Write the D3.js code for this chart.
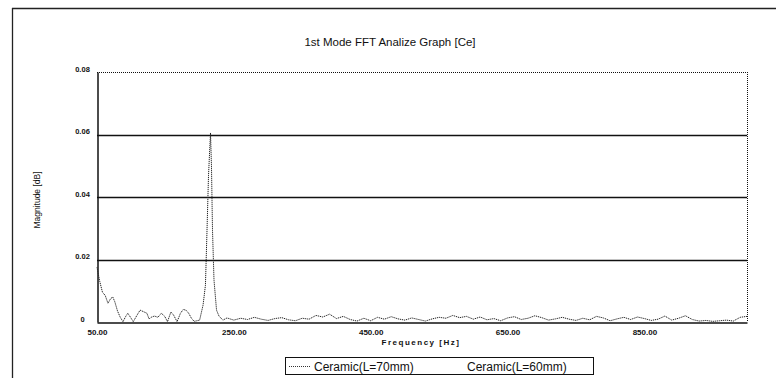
<!DOCTYPE html>
<html><head><meta charset="utf-8">
<script src="https://cdn.jsdelivr.net/npm/d3@7"></script>
<style>body{margin:0;background:#fff}svg{display:block}</style>
</head><body>
<svg id="c" width="776" height="378"></svg>
<script>
const title = "1st Mode FFT Analize Graph [Ce]";
const xLabel = "Frequency [Hz]";
const yLabel = "Magnitude [dB]";
const seriesNames = ["Ceramic(L=70mm)", "Ceramic(L=60mm)"];
const xTicks = [50, 250, 450, 650, 850];
const xTickLabels = ["50.00", "250.00", "450.00", "650.00", "850.00"];
const yTicks = [0, 0.02, 0.04, 0.06, 0.08];
const yTickLabels = ["0", "0.02", "0.04", "0.06", "0.08"];
const freq = [50,54,58,62,66,70,73,76,80,84,88,92,95,99,103,108,113,118,123,126,130,134,139,144,149,153,158,162,167,172,176,180,184,188,192,196,200,205,208.5,210.8,213,215.9,217.3,218.8,221,224.7,228.3,234,
240,250,260,270,280,290,300,310,320,330,340,350,360,370,380,390,400,410,420,430,440,450,460,470,480,490,500,510,520,530,540,550,560,570,580,590,600,610,620,630,640,650,660,670,680,690,700,710,720,730,740,750,760,770,780,790,800,810,820,830,840,850,860,870,880,890,900,910,920,930,940,950,960,970,980,990,1000];
const mag70 = [0.0175,0.013,0.0095,0.0085,0.006,0.0075,0.008,0.0065,0.0035,0.0015,0.0001,0.0018,0.0028,0.0015,0.0001,0.002,0.0038,0.0033,0.0028,0.001,0.0016,0.0019,0.0015,0.0028,0.0018,0.0001,0.0032,0.0022,0.0001,0.0028,0.004,0.0038,0.0028,0.0012,0.0002,0.0004,0.0006,0.0054,0.0118,0.0294,0.047,0.0605,0.05,0.0294,0.0134,0.0038,0.0019,0.0006,
0.0013,0.0006,0.0012,0.0008,0.0015,0.0009,0.0005,0.0011,0.0014,0.0007,0.0004,0.0012,0.0009,0.0021,0.0016,0.0025,0.0011,0.0018,0.0008,0.0003,0.0012,0.0004,0.0015,0.0009,0.0017,0.001,0.0006,0.0013,0.0008,0.0003,0.001,0.0015,0.0012,0.0021,0.0014,0.0018,0.0009,0.0016,0.0007,0.0011,0.0004,0.0013,0.0017,0.0008,0.0012,0.002,0.0014,0.0006,0.001,0.0015,0.0009,0.0005,0.0012,0.0007,0.0018,0.0013,0.0004,0.001,0.0015,0.0008,0.0016,0.0011,0.0005,0.0009,0.0019,0.0006,0.0012,0.002,0.0008,0.0003,0.0005,0.0002,0.0004,0.0006,0.0003,0.0015,0.0018];

const svg = d3.select("#c");
const L = 97, R = 747, T = 72, B = 322;
const x = d3.scaleLinear().domain([50, 1000]).range([L, R]);
const y = d3.scaleLinear().domain([0, 0.08]).range([B, T]);
const font = "'Liberation Sans', Arial, sans-serif";

// outer frame
svg.append("line").attr("x1",12).attr("x2",776).attr("y1",8.5).attr("y2",8.5).attr("stroke","#222").attr("stroke-width",1.3);
svg.append("line").attr("x1",12.5).attr("x2",12.5).attr("y1",8).attr("y2",378).attr("stroke","#222").attr("stroke-width",1.3);

// title
svg.append("text").attr("x",390).attr("y",46).attr("text-anchor","middle")
  .attr("font-family",font).attr("font-size",11.5).attr("fill","#111").text(title);

// gridlines
yTicks.forEach(v=>{
  if(v===0) return;
  const g = svg.append("line").attr("x1",L).attr("x2",R).attr("y1",Math.round(y(v))+0.5).attr("y2",Math.round(y(v))+0.5)
    .attr("stroke","#111");
  if(v===0.08) g.attr("stroke-dasharray","1,1").attr("stroke-width",1); else g.attr("stroke-width",1.3);
});
// right border dotted
svg.append("line").attr("x1",R+0.5).attr("x2",R+0.5).attr("y1",T).attr("y2",B).attr("stroke","#111").attr("stroke-dasharray","1,1");

// axes
const xAxis = d3.axisBottom(x).tickValues(xTicks).tickSize(0).tickFormat((d,i)=>xTickLabels[i]);
const gx = svg.append("g").attr("transform",`translate(0,${B+0.5})`).call(xAxis);
gx.select(".domain").attr("stroke","#111").attr("stroke-width",1.5);
gx.selectAll("text").attr("font-family",font).attr("font-size",8).attr("font-weight","bold").attr("fill","#111").attr("dy","0.35em").attr("y",10);

const yAxis = d3.axisLeft(y).tickValues(yTicks).tickSize(0).tickFormat((d,i)=>yTickLabels[i]);
const gy = svg.append("g").attr("transform",`translate(${L+0.5},0)`).call(yAxis);
gy.select(".domain").attr("stroke","#111").attr("stroke-width",1.5);
gy.selectAll("text").attr("font-family",font).attr("font-size",7.5).attr("font-weight","bold").attr("fill","#111")
  .attr("text-anchor","middle").attr("x",-15).attr("dy","-0.1em");

// axis labels
svg.append("text").attr("x",421).attr("y",345).attr("text-anchor","middle")
  .attr("font-family",font).attr("font-size",8).attr("font-weight","bold").attr("letter-spacing",1.5).attr("fill","#111").text(xLabel);
svg.append("text").attr("transform","translate(40,200) rotate(-90)").attr("text-anchor","middle")
  .attr("font-family",font).attr("font-size",8.5).attr("fill","#111").text(yLabel);

// series
const line = d3.line().x((d,i)=>x(freq[i])).y(d=>y(d));
svg.append("path").datum(mag70).attr("d",line).attr("fill","none")
  .attr("stroke","#222").attr("stroke-width",1).attr("stroke-dasharray","1.2,0.8");

// legend
svg.append("rect").attr("x",285.5).attr("y",357.5).attr("width",308).attr("height",17)
  .attr("fill","#fff").attr("stroke","#111").attr("stroke-width",1);
svg.append("line").attr("x1",289).attr("x2",310).attr("y1",366.5).attr("y2",366.5)
  .attr("stroke","#333").attr("stroke-dasharray","1,1");
svg.append("text").attr("x",314).attr("y",371).attr("font-family",font).attr("font-size",12).attr("fill","#111").text(seriesNames[0]);
svg.append("text").attr("x",467).attr("y",371).attr("font-family",font).attr("font-size",12).attr("fill","#111").text(seriesNames[1]);
</script>
</body></html>
